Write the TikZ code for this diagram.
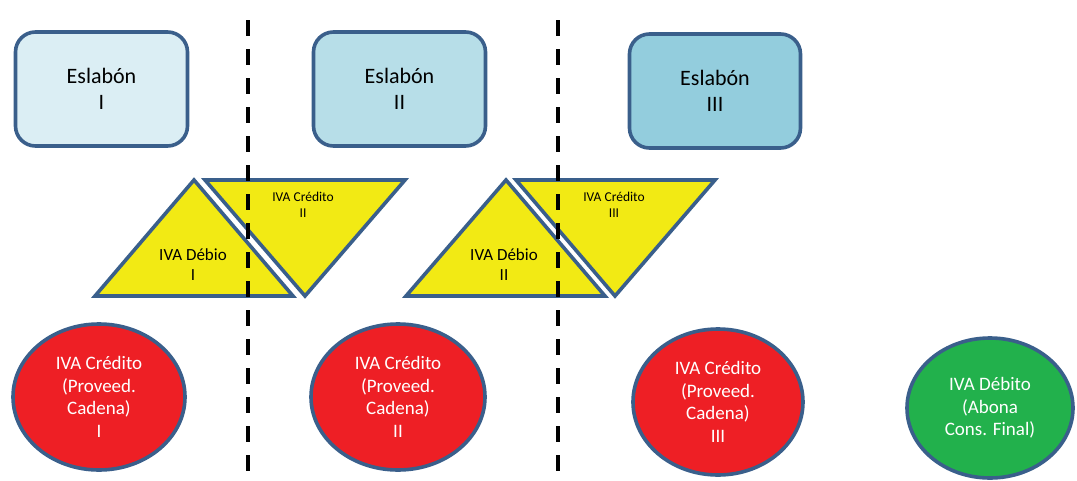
\documentclass[tikz,border=0pt]{standalone}
\usepackage{fontspec}
\setmainfont{Carlito}
\usetikzlibrary{shapes.geometric}

\definecolor{edgeblue}{HTML}{3A5F8B}
\definecolor{tintA}{HTML}{DBEEF4}
\definecolor{tintB}{HTML}{B7DEE8}
\definecolor{tintC}{HTML}{93CDDD}
\definecolor{ivayellow}{HTML}{F2EA14}
\definecolor{ivared}{HTML}{EE1F25}
\definecolor{ivagreen}{HTML}{22B14C}

\tikzset{
  x=1pt, y=-1pt,
  linkbox/.style={draw=edgeblue, line width=3.6pt, rounded corners=20pt,
    minimum width=172pt, minimum height=114pt, align=center,
    font=\fontsize{22}{26}\selectfont, text=black},
  taxblob/.style={ellipse, draw=edgeblue, line width=3.6pt, inner sep=0pt,
    align=center, text=white, font=\fontsize{19}{22.7}\selectfont},
  wedge/.style={fill=ivayellow, draw=edgeblue, line width=3.6pt, line join=miter},
  debitlabel/.style={align=center, font=\fontsize{17}{20}\selectfont, inner sep=0pt},
  creditlabel/.style={align=center, font=\fontsize{13.5}{16}\selectfont, inner sep=0pt},
  divider/.style={line width=3.8pt, dash pattern=on 16pt off 13pt}
}

\begin{document}
\begin{tikzpicture}
\useasboundingbox (0,0) rectangle (1077,480);

% links of the chain
\node[linkbox, fill=tintA] (e1) at (101.5,89) {Eslabón\\I};
\node[linkbox, fill=tintB] (e2) at (399.5,89) {Eslabón\\II};
\node[linkbox, fill=tintC, minimum width=171pt] (e3) at (715,91) {Eslabón\\III};

% debit (upward) and credit (downward) triangles
\draw[wedge] (194,180) -- (293,296) -- (95,296) -- cycle;
\draw[wedge] (205,180) -- (405,180) -- (305,296) -- cycle;
\draw[wedge] (506,180) -- (605,296) -- (406,296) -- cycle;
\draw[wedge] (516,180) -- (715,180) -- (615,296) -- cycle;

\node[debitlabel] (d1) at (193,265) {IVA Débio\\I};
\node[debitlabel] (d2) at (504,265) {IVA Débio\\II};
\node[creditlabel] (c2) at (303,205) {IVA Crédito\\II};
\node[creditlabel] (c3) at (614,205) {IVA Crédito\\III};

% tax balances
\node[taxblob, fill=ivared, minimum width=172pt, minimum height=146pt] (r1) at (99,397)
  {IVA Crédito\\(Proveed.\\Cadena)\\I};
\node[taxblob, fill=ivared, minimum width=174pt, minimum height=146pt] (r2) at (398,397)
  {IVA Crédito\\(Proveed.\\Cadena)\\II};
\node[taxblob, fill=ivared, minimum width=170pt, minimum height=146pt] (r3) at (718,402)
  {IVA Crédito\\(Proveed.\\Cadena)\\III};
\node[taxblob, fill=ivagreen, minimum width=166pt, minimum height=140pt] (g) at (990,408)
  {IVA Débito\\(Abona\\Cons. Final)};

% stage separators
\coordinate (s1top) at (248,20);
\coordinate (s1bot) at (248,480);
\coordinate (s2top) at (558,20);
\coordinate (s2bot) at (558,480);
\draw[divider] (s1top) -- (s1bot);
\draw[divider] (s2top) -- (s2bot);
\end{tikzpicture}
\end{document}
